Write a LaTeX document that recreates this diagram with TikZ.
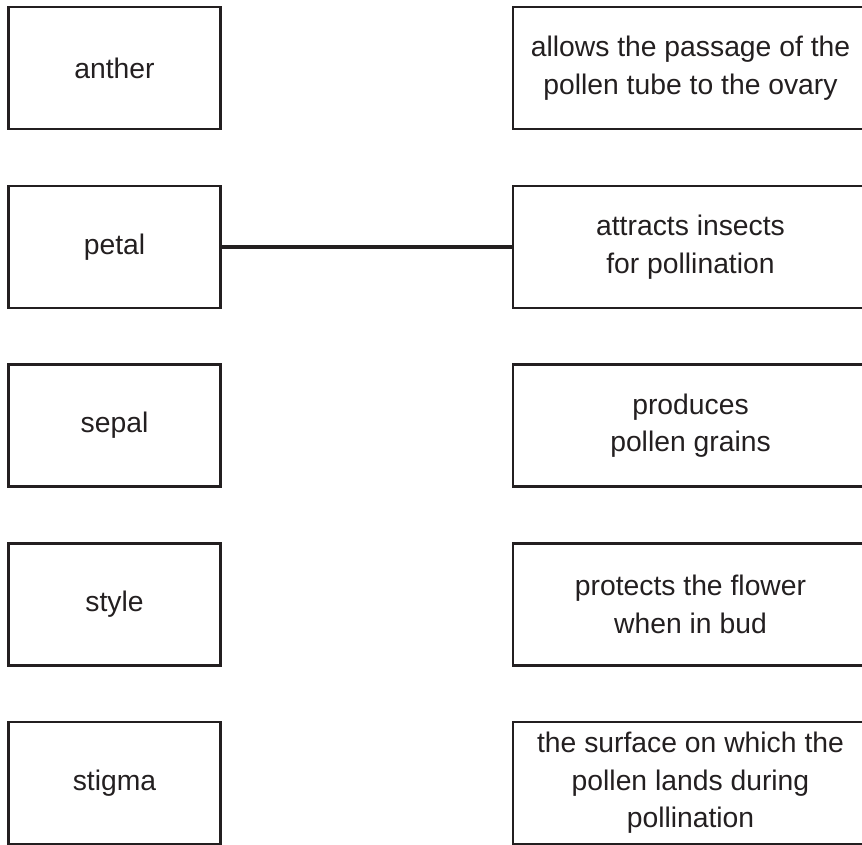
\documentclass[tikz,border=0pt]{standalone}
\usepackage{fontspec}
\setmainfont{Liberation Sans}
\definecolor{ink}{HTML}{231F20}
\begin{document}
\begin{tikzpicture}[x=1pt,y=-1pt,
  lbox/.style={draw=ink,line width=2.4pt,minimum width=212pt,minimum height=122pt,inner sep=0pt,
    font=\fontsize{28.3}{37.5}\selectfont,text=ink,align=center},
  rbox/.style={draw=ink,line width=2.4pt,minimum width=355pt,minimum height=122pt,inner sep=0pt,
    font=\fontsize{28.3}{37.5}\selectfont,text=ink,align=center},
  link/.style={draw=ink,line width=4pt}]
\useasboundingbox (0,0) rectangle (862,845);
\clip (0,0) rectangle (862,845);
\node[lbox] (l1) at (114.5,68) {anther};
\node[lbox] (l2) at (114.5,247) {petal};
\node[lbox] (l3) at (114.5,425.5) {sepal};
\node[lbox] (l4) at (114.5,604.5) {style};
\node[lbox] (l5) at (114.5,783) {stigma};
\node[rbox] (r1) at (690.5,68) {allows the passage of the\\pollen tube to the ovary};
\node[rbox] (r2) at (690.5,247) {attracts insects\\for pollination};
\node[rbox] (r3) at (690.5,425.5) {produces\\pollen grains};
\node[rbox] (r4) at (690.5,604.5) {protects the flower\\when in bud};
\node[rbox] (r5) at (690.5,783) {the surface on which the\\pollen lands during\\pollination};
\draw[link] (l2.east) -- (r2.west);
\end{tikzpicture}
\end{document}
